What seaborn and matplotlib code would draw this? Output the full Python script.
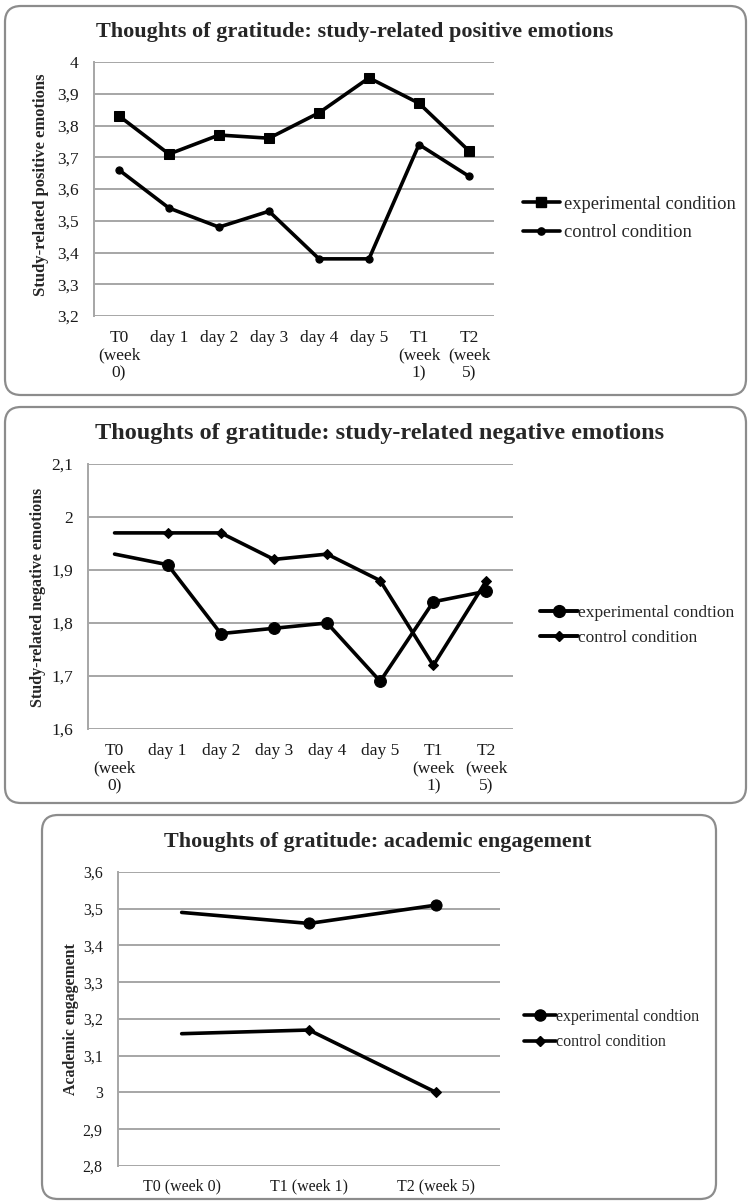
import numpy as np
import pandas as pd
import matplotlib
matplotlib.use("Agg")
import matplotlib.pyplot as plt
import seaborn as sns
from matplotlib.patches import FancyBboxPatch
from matplotlib.transforms import IdentityTransform
from matplotlib.lines import Line2D
from matplotlib.legend_handler import HandlerLine2D
from matplotlib.ticker import FuncFormatter, MultipleLocator

# ---------------- data ----------------
days_labels = ["T0\n(week\n0)", "day 1", "day 2", "day 3", "day 4", "day 5",
               "T1\n(week\n1)", "T2\n(week\n5)"]
pos_experimental = [3.83, 3.71, 3.77, 3.76, 3.84, 3.95, 3.87, 3.72]
pos_control = [3.66, 3.54, 3.48, 3.53, 3.38, 3.38, 3.74, 3.64]

neg_experimental = [1.93, 1.91, 1.78, 1.79, 1.80, 1.69, 1.84, 1.86]
neg_control = [1.97, 1.97, 1.97, 1.92, 1.93, 1.88, 1.72, 1.88]

eng_labels = ["T0 (week 0)", "T1 (week 1)", "T2 (week 5)"]
eng_experimental = [3.49, 3.46, 3.51]
eng_control = [3.16, 3.17, 3.00]

titles = ["Thoughts of gratitude: study-related positive emotions",
          "Thoughts of gratitude: study-related negative emotions",
          "Thoughts of gratitude: academic engagement"]
ylabels = ["Study-related positive emotions",
           "Study-related negative emotions",
           "Academic engagement"]
legend1 = ["experimental condition", "control condition"]
legend23 = ["experimental condtion", "control condition"]

# ---------------- style ----------------
sns.set_theme(style="white")
plt.rcParams["font.family"] = ["Liberation Serif", "DejaVu Serif"]
W, H = 749, 1201
fig = plt.figure(figsize=(W / 100, H / 100), dpi=100)
GRID = "#a6a6a6"


class EndMarker(HandlerLine2D):
    def get_xdata(self, legend, xdescent, ydescent, width, height, fontsize):
        xdata = np.array([-xdescent, -xdescent + width])
        return xdata, np.array([-xdescent + width])


def comma(v, p):
    s = f"{v:.1f}".rstrip("0").rstrip(".")
    return s.replace(".", ",")


def add_box(x0, y0_top, x1, y1_bot):
    p = FancyBboxPatch((x0, H - y1_bot), x1 - x0, y1_bot - y0_top,
                       boxstyle="round,pad=0,rounding_size=16",
                       transform=IdentityTransform(), facecolor="none",
                       edgecolor="#8c8c8c", linewidth=1.6)
    fig.add_artist(p)


def make_axes(left, top, right, bottom):
    return fig.add_axes([left / W, 1 - bottom / H, (right - left) / W, (bottom - top) / H])


def style_axes(ax, ylim, labels, tick_fs, xpad):
    ax.set_ylim(*ylim)
    ax.set_xlim(-0.5, len(labels) - 0.5)
    ax.yaxis.set_major_locator(MultipleLocator(0.1))
    ax.yaxis.set_major_formatter(FuncFormatter(comma))
    ax.grid(axis="y", color=GRID, linewidth=1.4)
    ax.grid(axis="x", visible=False)
    for s in ["top", "right", "bottom"]:
        ax.spines[s].set_visible(False)
    ax.spines["left"].set_color(GRID)
    ax.spines["left"].set_linewidth(1.4)
    ax.tick_params(axis="both", length=0, labelsize=tick_fs, colors="#1a1a1a")
    ax.tick_params(axis="y", pad=11)
    ax.tick_params(axis="x", pad=xpad)
    ax.set_xlabel("")
    ax.set_ylabel("")
    for t in ax.get_xticklabels():
        t.set_linespacing(1.15)
    ax.set_axisbelow(True)


def series(ax, labels, values, marker, ms, markevery=None):
    df = pd.DataFrame({"time": labels, "value": values})
    kw = dict(color="black", linewidth=2.6, marker=marker, markersize=ms,
              markeredgecolor="black", markerfacecolor="black", sort=False,
              legend=False)
    if markevery is not None:
        kw["markevery"] = markevery
    sns.lineplot(data=df, x="time", y="value", ax=ax, **kw)


# ---------------- panel 1 ----------------
add_box(5, 6, 746, 395)
ax1 = make_axes(94, 62, 494, 316)
series(ax1, days_labels, pos_experimental, "s", 6.5)
series(ax1, days_labels, pos_control, "o", 5.2)
style_axes(ax1, (3.2, 4.0), days_labels, 12.5, 10)
fig.text(355 / W, 1 - 32 / H, titles[0], ha="center", va="center",
         fontsize=16, fontweight="bold")
fig.text(41 / W, 1 - 185 / H, ylabels[0], rotation=90, ha="center", va="center",
         fontsize=12, fontweight="bold")
h1 = [Line2D([], [], color="black", lw=2.6, marker="s", ms=6.5),
      Line2D([], [], color="black", lw=2.6, marker="o", ms=5.2)]
ax1.legend(h1, legend1, loc="center left", bbox_to_anchor=(523 / W, 1 - 218.5 / H),
           bbox_transform=fig.transFigure, frameon=False, fontsize=13.3,
           handlelength=2.0, handletextpad=0.2, labelspacing=0.6,
           borderpad=0, borderaxespad=0, numpoints=1)

# ---------------- panel 2 ----------------
add_box(5, 407, 746, 803)
ax2 = make_axes(88, 464, 513, 729)
series(ax2, days_labels, neg_experimental, "o", 8.5, slice(1, None))
series(ax2, days_labels, neg_control, "D", 5.0, slice(1, None))
style_axes(ax2, (1.6, 2.1), days_labels, 12.5, 10)
fig.text(380 / W, 1 - 433 / H, titles[1], ha="center", va="center",
         fontsize=17.5, fontweight="bold")
fig.text(38 / W, 1 - 597 / H, ylabels[1], rotation=90, ha="center", va="center",
         fontsize=11.5, fontweight="bold")
h2 = [Line2D([], [], color="black", lw=2.8, marker="o", ms=8.5),
      Line2D([], [], color="black", lw=2.8, marker="D", ms=5.0)]
ax2.legend(h2, legend23, loc="center left", bbox_to_anchor=(540 / W, 1 - 625.5 / H),
           bbox_transform=fig.transFigure, frameon=False, fontsize=12.5,
           handlelength=2.2, handletextpad=0.0, labelspacing=0.5,
           borderpad=0, borderaxespad=0,
           handler_map={Line2D: EndMarker()})

# ---------------- panel 3 ----------------
add_box(42, 815, 716, 1199)
ax3 = make_axes(118, 872, 500, 1166)
series(ax3, eng_labels, eng_experimental, "o", 8.0, slice(1, None))
series(ax3, eng_labels, eng_control, "D", 5.0, slice(1, None))
style_axes(ax3, (2.8, 3.6), eng_labels, 11.5, 9)
fig.text(378 / W, 1 - 842 / H, titles[2], ha="center", va="center",
         fontsize=15.9, fontweight="bold")
fig.text(71 / W, 1 - 1019 / H, ylabels[2], rotation=90, ha="center", va="center",
         fontsize=11.4, fontweight="bold")
h3 = [Line2D([], [], color="black", lw=2.6, marker="o", ms=8.0),
      Line2D([], [], color="black", lw=2.6, marker="D", ms=5.0)]
ax3.legend(h3, legend23, loc="center left", bbox_to_anchor=(524 / W, 1 - 1029.5 / H),
           bbox_transform=fig.transFigure, frameon=False, fontsize=11.5,
           handlelength=2.0, handletextpad=0.0, labelspacing=0.6,
           borderpad=0, borderaxespad=0,
           handler_map={Line2D: EndMarker()})

fig.savefig("out.png", dpi=100, facecolor="white")
